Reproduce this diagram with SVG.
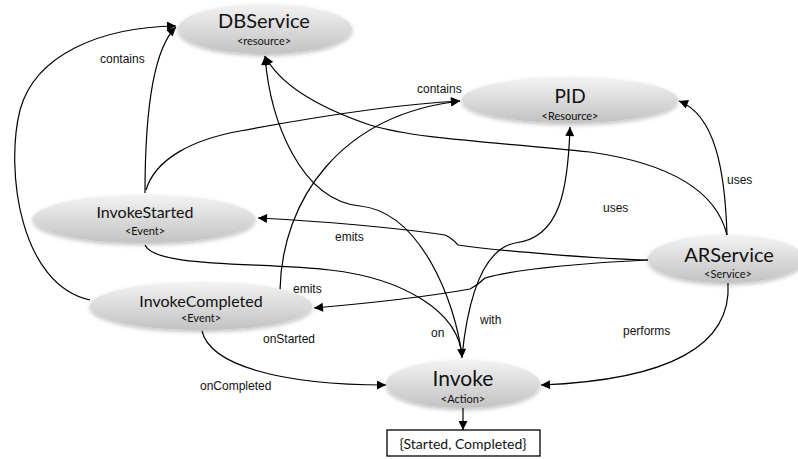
<svg xmlns="http://www.w3.org/2000/svg" width="798" height="459" viewBox="0 0 798 459">
<style>
.node ellipse{fill:url(#g);filter:url(#sh)}
.t{font-family:Lato,"Open Sans",sans-serif;fill:#111;text-anchor:middle}
.s{font-family:Lato,"Open Sans",sans-serif;fill:#111;text-anchor:middle;font-size:11px}
.edge path{fill:none;stroke:#000;stroke-width:1.2}
.lbl{font-family:"Liberation Sans",Arial,sans-serif;font-size:12px;fill:#111}
</style>
<defs>
<linearGradient id="g" x1="0" y1="0" x2="0" y2="1">
<stop offset="0" stop-color="#f3f3f3"/>
<stop offset="1" stop-color="#c2c2c2"/>
</linearGradient>
<filter id="sh" x="-10%" y="-20%" width="120%" height="150%">
<feDropShadow dx="0" dy="2" stdDeviation="2" flood-color="#000" flood-opacity="0.25"/>
</filter>
<marker id="a" viewBox="0 0 10 10" refX="10" refY="5" markerWidth="10" markerHeight="9" markerUnits="userSpaceOnUse" orient="auto">
<path d="M0,0 L10,5 L0,10 z" fill="#000"/>
</marker>
</defs>
<g id="connectors" class="edge">
<path d="M145,193 C145,120 152,50 176,27" marker-end="url(#a)"/>
<path d="M90,300 C20,285 5,170 20,110 C35,55 100,27 176,26" marker-end="url(#a)"/>
<path d="M146,190 C155,160 190,140 240,131 C320,116 400,104 460,101" marker-end="url(#a)"/>
<path d="M280,290 C282,200 340,115 460,101" marker-end="url(#a)"/>
<path d="M648,260 C600,259 500,251 458,245 Q452,238 445,235 C400,228 320,221 258,218" marker-end="url(#a)"/>
<path d="M648,260 C600,262 520,268 485,278 Q478,285 470,289 C420,298 360,304 314,308" marker-end="url(#a)"/>
<path d="M145,245 C155,268 260,262 330,270 C400,278 460,310 462,358" marker-end="url(#a)"/>
<path d="M462,356 C455,300 420,212 360,206 C300,200 270,120 265,56" marker-end="url(#a)"/>
<path d="M727,235 C715,185 660,162 590,152 C500,142 420,140 370,125 C320,108 280,85 265,56" marker-end="url(#a)"/>
<path d="M462,356 C470,280 490,248 515,243 C560,238 568,190 570,127" marker-end="url(#a)"/>
<path d="M727,235 C725,170 715,115 679,101" marker-end="url(#a)"/>
<path d="M728,283 C732,345 670,380 541,385" marker-end="url(#a)"/>
<path d="M202,331 C210,365 280,385 386,385" marker-end="url(#a)"/>
<path d="M463,408 L463,430" marker-end="url(#a)"/>
</g>
<g id="DBService" class="node">
<ellipse cx="265" cy="29" rx="87" ry="25"/>
<text class="t" x="264" y="28" font-size="20">DBService</text>
<text class="s" x="264" y="45">&lt;resource&gt;</text>
</g>
<g id="PID" class="node">
<ellipse cx="570" cy="100" rx="108" ry="23"/>
<text class="t" x="570" y="103" font-size="19">PID</text>
<text class="s" x="570" y="120">&lt;Resource&gt;</text>
</g>
<g id="InvokeStarted" class="node">
<ellipse cx="144" cy="219" rx="111" ry="24"/>
<text class="t" x="145" y="218" font-size="16">InvokeStarted</text>
<text class="s" x="145" y="235" font-size="10">&lt;Event&gt;</text>
</g>
<g id="InvokeCompleted" class="node">
<ellipse cx="201" cy="306" rx="111" ry="24"/>
<text class="t" x="201" y="307" font-size="16">InvokeCompleted</text>
<text class="s" x="201" y="322">&lt;Event&gt;</text>
</g>
<g id="ARService" class="node">
<ellipse cx="726" cy="259" rx="78" ry="24"/>
<text class="t" x="729" y="262" font-size="20">ARService</text>
<text class="s" x="728" y="278">&lt;Service&gt;</text>
</g>
<g id="Invoke" class="node">
<ellipse cx="463" cy="384" rx="77" ry="24"/>
<text class="t" x="463" y="386" font-size="21">Invoke</text>
<text class="s" x="463" y="403">&lt;Action&gt;</text>
</g>
<g id="States">
<rect x="387" y="430" width="153" height="26" fill="#fff" stroke="#000" stroke-width="1.3"/>
<text class="t" x="463" y="449" font-size="14">{Started, Completed}</text>
</g>
<g id="labels">
<text class="lbl" x="100" y="63">contains</text>
<text class="lbl" x="417" y="93">contains</text>
<text class="lbl" x="727" y="184">uses</text>
<text class="lbl" x="603" y="212">uses</text>
<text class="lbl" x="335" y="241">emits</text>
<text class="lbl" x="293" y="293">emits</text>
<text class="lbl" x="431" y="337">on</text>
<text class="lbl" x="480" y="324">with</text>
<text class="lbl" x="263" y="343">onStarted</text>
<text class="lbl" x="200" y="390">onCompleted</text>
<text class="lbl" x="623" y="335">performs</text>
</g>
</svg>
